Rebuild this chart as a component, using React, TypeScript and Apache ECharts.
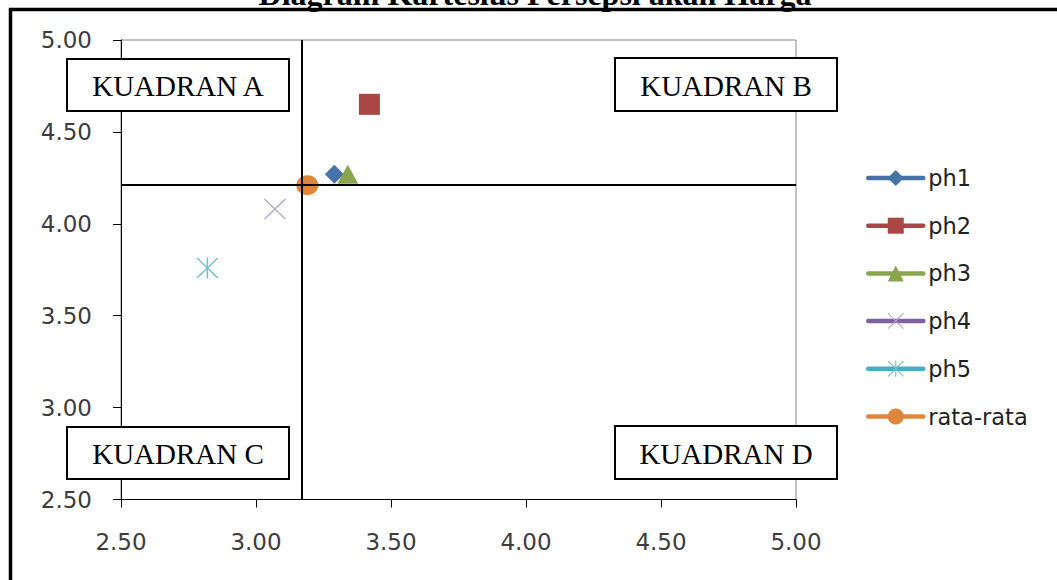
import { useEffect, useRef } from "react";
import * as echarts from "echarts";

// Cartesian (importance-performance) diagram for price perception
const title = "Diagram Kartesius Persepsi akan Harga";
const seriesNames = ["ph1", "ph2", "ph3", "ph4", "ph5", "rata-rata"];
const xValues = [3.29, 3.42, 3.34, 3.07, 2.82, 3.19];
const yValues = [4.27, 4.65, 4.27, 4.08, 3.76, 4.21];
// dividing lines between the quadrants
const crossX = 3.17;
const crossY = 4.21;
const axisMin = 2.5;
const axisMax = 5;
const axisStep = 0.5;
const quadrantLabels = ["KUADRAN A", "KUADRAN B", "KUADRAN C", "KUADRAN D"];

// thin cross and asterisk markers built as filled outlines
const X_PATH = "path://M0,1L1,0L22,21L21,22Z M21,0L22,1L1,22L0,21Z";
const STAR_PATH = "path://M0,1L1,0L22,21L21,22Z M21,0L22,1L1,22L0,21Z M10.3,0L11.7,0L11.7,22L10.3,22Z";

const markerStyles: { symbol: string; size: number | number[]; color: string; line: string }[] = [
  { symbol: "diamond", size: 19, color: "#4572A7", line: "#4572A7" },
  { symbol: "rect", size: 21, color: "#AA4643", line: "#AA4643" },
  { symbol: "triangle", size: [21, 19], color: "#89A54E", line: "#89A54E" },
  { symbol: X_PATH, size: [22, 21], color: "#B3A4CE", line: "#7D60A0" },
  { symbol: STAR_PATH, size: [22, 21], color: "#6FBCD2", line: "#4BACC6" },
  { symbol: "circle", size: [22, 20], color: "#E0863B", line: "#E0863B" },
];

// quadrant label boxes: [x, y, width, height]
const boxRects = [
  [67, 59, 222, 52],
  [615, 58, 222, 53],
  [67, 427, 222, 52],
  [615, 426, 222, 53],
];

const labelFont = "'DejaVu Sans', Verdana, sans-serif";
const serifFont = "'Liberation Serif', 'Times New Roman', serif";

export default function App() {
  const ref = useRef<HTMLDivElement>(null);

  useEffect(() => {
    if (!ref.current) return;
    const chart = echarts.init(ref.current, undefined, { renderer: "svg" });

    const series: any[] = seriesNames.map((name, i) => {
      const m = markerStyles[i];
      const s: any = {
        name,
        type: "line",
        data: [[xValues[i], yValues[i]]],
        symbol: m.symbol,
        symbolSize: m.size,
        showSymbol: true,
        itemStyle: { color: m.color },
        lineStyle: { color: m.line, width: 4.5, cap: "round" },
        z: 3,
      };
      if (name === "rata-rata") {
        s.markLine = {
          silent: true,
          symbol: "none",
          z: 5,
          label: { show: false },
          lineStyle: { color: "#000", width: 2, type: "solid" },
          data: [{ xAxis: crossX }, { yAxis: crossY }],
        };
      }
      return s;
    });

    const graphics: any[] = [
      {
        type: "rect",
        z: 100,
        shape: { x: 10.5, y: 9.5, width: 1200, height: 800 },
        style: { fill: "none", stroke: "#000", lineWidth: 3.5 },
      },
      {
        type: "text",
        z: 100,
        x: 535,
        y: -6,
        style: {
          text: title,
          fontFamily: serifFont,
          fontWeight: "bold",
          fontSize: 32,
          fill: "#000",
          align: "center",
          verticalAlign: "middle",
        },
      },
    ];
    boxRects.forEach((r, i) => {
      graphics.push({
        type: "rect",
        z: 100,
        shape: { x: r[0], y: r[1], width: r[2], height: r[3] },
        style: { fill: "#fff", stroke: "#000", lineWidth: 2 },
      });
      graphics.push({
        type: "text",
        z: 101,
        x: r[0] + r[2] / 2,
        y: r[1] + r[3] / 2 + 1,
        style: {
          text: quadrantLabels[i],
          fontFamily: serifFont,
          fontSize: 29,
          fill: "#000",
          align: "center",
          verticalAlign: "middle",
        },
      });
    });

    const axisCommon = {
      type: "value",
      min: axisMin,
      max: axisMax,
      interval: axisStep,
      splitLine: { show: false },
      axisLine: { show: true, onZero: false, lineStyle: { color: "#000", width: 1 } },
      axisTick: { show: true, inside: false, length: 8, lineStyle: { color: "#000", width: 1 } },
      axisLabel: {
        color: "#3c3c3c",
        fontFamily: labelFont,
        fontSize: 23,
        formatter: (v: number) => v.toFixed(2),
      },
    };

    chart.setOption({
      animation: false,
      backgroundColor: "#fff",
      grid: {
        left: 121,
        right: 261,
        top: 40,
        bottom: 80.5,
        show: true,
        borderColor: "#868686",
        borderWidth: 1,
        backgroundColor: "transparent",
      },
      xAxis: { ...axisCommon, axisLabel: { ...axisCommon.axisLabel, margin: 31 } },
      yAxis: { ...axisCommon, axisLabel: { ...axisCommon.axisLabel, margin: 29 } },
      legend: {
        orient: "vertical",
        left: 861,
        top: 161,
        itemWidth: 55,
        itemHeight: 20,
        itemGap: 23.7,
        data: seriesNames,
        lineStyle: { width: 4.5, cap: "round" },
        textStyle: {
          color: "#222",
          fontFamily: labelFont,
          fontSize: 22.5,
          lineHeight: 24,
        },
      },
      series,
      graphic: graphics,
    });

    return () => chart.dispose();
  }, []);

  return (
    <div
      ref={ref}
      style={{ position: "absolute", left: 0, top: 0, width: 1057, height: 580 }}
    />
  );
}
